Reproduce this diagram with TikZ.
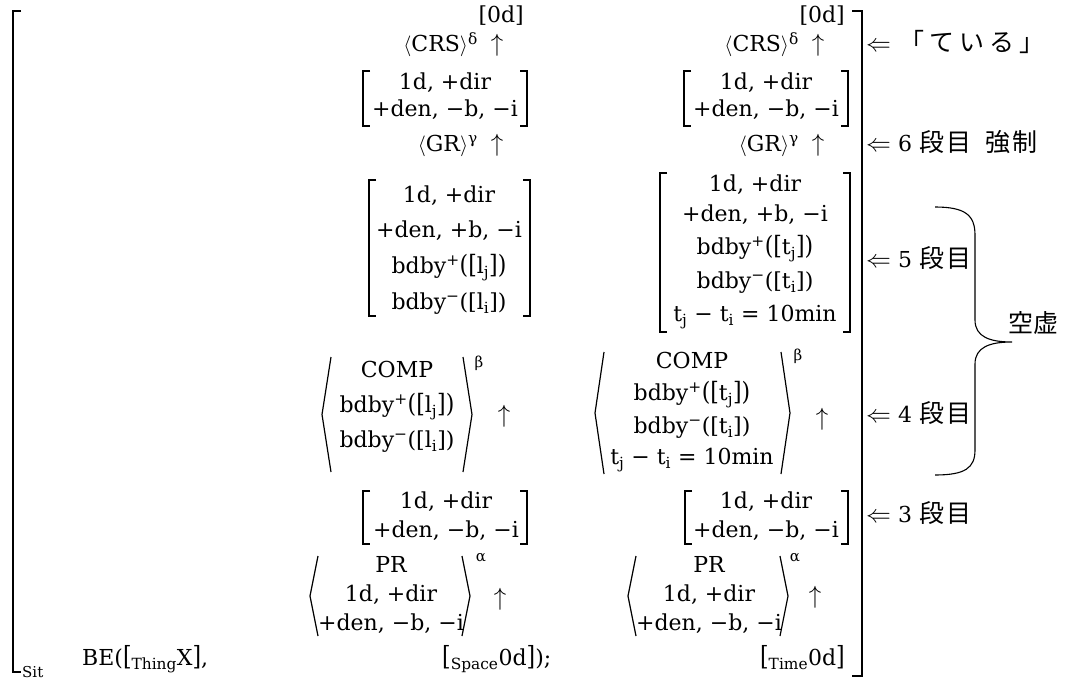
\documentclass[tikz,border=0pt]{standalone}
\usepackage{fontspec}
\setmainfont{DejaVu Serif}
\newfontfamily\jpf{Noto Sans CJK JP}
\newcommand\myla{$\langle$}
\newcommand\myra{$\rangle$}
\newcommand\myup{{\fontsize{26}{28}\selectfont$\uparrow$}}
\newcommand\mylarr{{\fontsize{26}{28}\selectfont$\Leftarrow$}}
\newcommand\sps[1]{\textsuperscript{#1}}
\newcommand\sbs[1]{\textsubscript{#1}}
\newcommand\bdp[1]{bdby\textsuperscript{+}\scalebox{1}[1.15]{([}#1\scalebox{1}[1.15]{])}}
\newcommand\bdm[1]{bdby\textsuperscript{−}([#1])}
\newcommand\sqb[4]{\draw[brk] (#1+7,#2) -- (#1,#2) -- (#1,#4) -- (#1+7,#4); \draw[brk] (#3-7,#2) -- (#3,#2) -- (#3,#4) -- (#3-7,#4);}
\newcommand\angb[6]{\draw[ang] (#2,#5) -- ({#1},{(#5+#6)/2}) -- (#2,#6); \draw[ang] (#4,#5) -- ({#3},{(#5+#6)/2}) -- (#4,#6);}
\tikzset{
  txt/.style={inner sep=0pt, text height=15pt, text depth=5pt, font=\fontsize{22}{26}\selectfont},
  smalltxt/.style={inner sep=0pt, font=\fontsize{15}{18}\selectfont},
  jptxt/.style={inner sep=0pt, anchor=west, text height=15pt, text depth=5pt, font=\fontsize{22}{26}\selectfont},
  brk/.style={line width=1.4pt},
  bigbrk/.style={line width=2.6pt},
  ang/.style={line width=1.2pt},
  bracestyle/.style={line width=1.1pt}
}
\newcommand\jp[1]{{\fontsize{25}{28}\selectfont\jpf #1}}
\begin{document}
\begin{tikzpicture}[x=1pt,y=-1pt]
\useasboundingbox (0,0) rectangle (1065,682);
% big outer brackets
\draw[bigbrk] (21,11) -- (13,11) -- (13,672) -- (21,672);
\draw[bigbrk] (852,11) -- (862,11) -- (862,676) -- (852,676);
\node[smalltxt,anchor=west] (sit) at (22,672) {Sit};

% ---------- left column ----------
\node[txt,anchor=east] (l0) at (524,18) {[0d]};
\node[txt,anchor=east] (l1) at (478,47) {\myla CRS\myra\sps{δ}};
\node[txt] (l1u) at (497,47) {\myup};
\node[txt] (l2a) at (445,85) {1d, +dir};
\node[txt] (l2b) at (445,112) {+den, −b, −i};
\sqb{363}{71}{527}{126}
\node[txt,anchor=east] (l3) at (478,146) {\myla GR\myra\sps{γ}};
\node[txt] (l3u) at (497,146) {\myup};
\node[txt] (l4a) at (449,197) {1d, +dir};
\node[txt] (l4b) at (449,232) {+den, +b, −i};
\node[txt] (l4c) at (449,268) {\bdp{l\sbs{j}}};
\node[txt] (l4d) at (449,304) {\bdm{l\sbs{i}}};
\sqb{369}{180}{530}{316}
\node[txt] (l5a) at (397,372) {COMP};
\node[txt] (l5b) at (397,407) {\bdp{l\sbs{j}}};
\node[txt] (l5c) at (397,442) {\bdm{l\sbs{i}}};
\angb{322}{331}{472}{463}{357}{472}
\node[smalltxt] (l5s) at (479,363) {β};
\node[txt] (l5u) at (504,417) {\myup};
\node[txt] (l6a) at (446,503) {1d, +dir};
\node[txt] (l6b) at (446,532) {+den, −b, −i};
\sqb{363}{491}{527}{544}
\node[txt] (l7a) at (391,567) {PR};
\node[txt] (l7b) at (391,596) {1d, +dir};
\node[txt] (l7c) at (391,625) {+den, −b, −i};
\angb{310}{318}{470}{462}{556}{636}
\node[smalltxt] (l7s) at (481,558) {α};
\node[txt] (l7u) at (500,600) {\myup};

% ---------- right column ----------
\node[txt,anchor=east] (r0) at (845,18) {[0d]};
\node[txt,anchor=east] (r1) at (799,47) {\myla CRS\myra\sps{δ}};
\node[txt] (r1u) at (818,47) {\myup};
\node[txt] (r2a) at (766,85) {1d, +dir};
\node[txt] (r2b) at (766,112) {+den, −b, −i};
\sqb{684}{71}{848}{126}
\node[txt,anchor=east] (r3) at (799,146) {\myla GR\myra\sps{γ}};
\node[txt] (r3u) at (818,146) {\myup};
\node[txt] (r4a) at (755,186) {1d, +dir};
\node[txt] (r4b) at (755,216) {+den, +b, −i};
\node[txt] (r4c) at (755,249) {\bdp{t\sbs{j}}};
\node[txt] (r4d) at (755,283) {\bdm{t\sbs{i}}};
\node[txt] (r4e) at (755,316) {t\sbs{j}\ −\ t\sbs{i}\ =\ 10min};
\sqb{660}{173}{850}{332}
\node[txt] (r5a) at (692,363) {COMP};
\node[txt] (r5b) at (692,395) {\bdp{t\sbs{j}}};
\node[txt] (r5c) at (692,428) {\bdm{t\sbs{i}}};
\node[txt] (r5d) at (692,459) {t\sbs{j}\ −\ t\sbs{i}\ =\ 10min};
\angb{595}{604}{790}{781}{352}{474}
\node[smalltxt] (r5s) at (798,356) {β};
\node[txt] (r5u) at (822,420) {\myup};
\node[txt] (r6a) at (766,503) {1d, +dir};
\node[txt] (r6b) at (766,532) {+den, −b, −i};
\sqb{685}{491}{848}{544}
\node[txt] (r7a) at (709,567) {PR};
\node[txt] (r7b) at (709,596) {1d, +dir};
\node[txt] (r7c) at (709,625) {+den, −b, −i};
\angb{628}{636}{788}{780}{556}{636}
\node[smalltxt] (r7s) at (795,558) {α};
\node[txt] (r7u) at (815,598) {\myup};

% ---------- bottom row ----------
\node[txt,anchor=west] (be) at (82,660) {BE(\scalebox{1}[1.2]{[}\sbs{Thing}X\scalebox{1}[1.2]{]},};
\node[txt,anchor=west] (sp) at (442,660) {\scalebox{1}[1.2]{[}\sbs{Space}0d\scalebox{1}[1.2]{]});};
\node[txt,anchor=east] (tm) at (845,660) {\scalebox{1}[1.2]{[}\sbs{Time}0d\scalebox{1}[1.2]{]}};

% ---------- annotations ----------
\node[jptxt] (a1) at (866,47) {\mylarr\hspace{8pt}\jp{「\hspace{5pt}て\hspace{5pt}い\hspace{5pt}る\hspace{5pt}」}};
\node[jptxt] (a2) at (866,146) {\mylarr\ 6 \jp{段\hspace{2pt}目}\hspace{14pt}\jp{強\hspace{2pt}制}};
\node[jptxt] (a3) at (866,262) {\mylarr\ 5 \jp{段\hspace{2pt}目}};
\node[jptxt] (a4) at (866,417) {\mylarr\ 4 \jp{段\hspace{2pt}目}};
\node[jptxt] (a5) at (866,517) {\mylarr\ 3 \jp{段\hspace{2pt}目}};
\draw[bracestyle] (935,207) .. controls (965,207) and (975,215) .. (975,235) -- (975,320)
  .. controls (975,337) and (990,342) .. (1012,342)
  .. controls (990,342) and (975,347) .. (975,364) -- (975,450)
  .. controls (975,468) and (965,475) .. (935,475);
\node[jptxt] (kk) at (1008,327) {\jp{空虚}};
\end{tikzpicture}
\end{document}
